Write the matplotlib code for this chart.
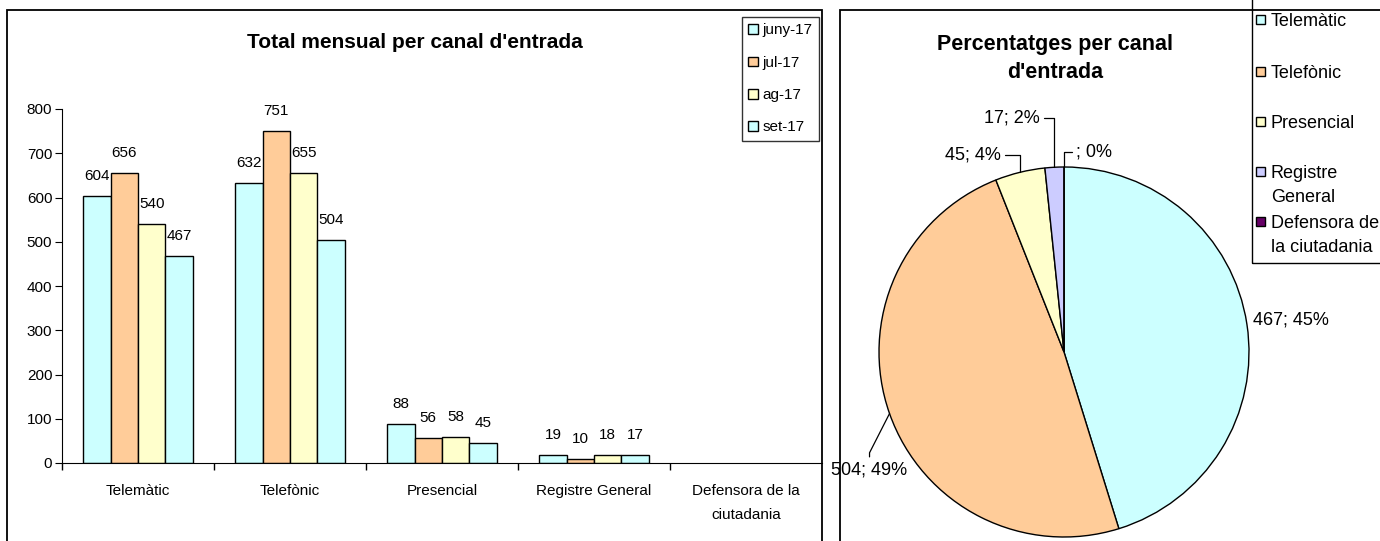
"""
Atencio ciutadana: total mensual i percentatges per canal d'entrada.
"""

import numpy as np
import matplotlib.pyplot as plt
from matplotlib.patches import Rectangle

plt.rcParams['font.family'] = ['Liberation Sans', 'DejaVu Sans']

# ---------------------- Data ---------------------- #
canals = ["Telemàtic", "Telefònic", "Presencial", "Registre General",
          "Defensora de la\nciutadania"]
mesos = ["juny-17", "jul-17", "ag-17", "set-17"]
juny_17 = [604, 632, 88, 19, None]
jul_17 = [656, 751, 56, 10, None]
ag_17 = [540, 655, 58, 18, None]
set_17 = [467, 504, 45, 17, None]

pie_labels = ["Telemàtic", "Telefònic", "Presencial", "Registre\nGeneral",
              "Defensora de\nla ciutadania"]

bar_colors = ["#CCFFFF", "#FFCC99", "#FFFFCC", "#CCFFFF"]
pie_colors = ["#CCFFFF", "#FFCC99", "#FFFFCC", "#CCCCFF", "#660066"]

W, H = 1380, 541


# figure-fraction helper from pixel coords (origin top-left)
def fx(x):
    return x / W


def fy(y):
    return 1 - y / H


fig = plt.figure(figsize=(W / 100, H / 100), dpi=100)

# panel frames
fig.patches.append(Rectangle((fx(7), fy(560)), fx(822) - fx(7), fy(10) - fy(560),
                             transform=fig.transFigure, fill=False,
                             edgecolor="black", lw=1.3))
fig.patches.append(Rectangle((fx(840), fy(560)), fx(1400) - fx(840), fy(10) - fy(560),
                             transform=fig.transFigure, fill=False,
                             edgecolor="black", lw=1.3))

# ---------------------- Bar chart ---------------------- #
ax = fig.add_axes([fx(62), fy(463), fx(822) - fx(62), fy(109) - fy(463)])
x = np.arange(len(canals))
bw = 0.18
handles = []
for i, (mes, vals) in enumerate(zip(mesos, [juny_17, jul_17, ag_17, set_17])):
    v = np.array([np.nan if a is None else a for a in vals], dtype=float)
    off = (i - 1.5) * bw
    bars = ax.bar(x + off, v, bw, color=bar_colors[i], edgecolor="black",
                  linewidth=1, label=mes)
    handles.append(bars)
    for xi, vi in zip(x + off, v):
        if not np.isnan(vi):
            ax.annotate(f"{int(vi)}", (xi, vi), xytext=(0, 16),
                        textcoords="offset pixels", ha="center",
                        va="baseline", fontsize=11)

ax.set_xlim(-0.5, 4.5)
ax.set_ylim(0, 800)
ax.set_yticks(range(0, 801, 100))
ax.set_xticks(x)
ax.set_xticklabels(canals, fontsize=11, linespacing=1.95)
ax.set_xticks(np.arange(-0.5, 4, 1), minor=True)
ax.tick_params(axis="x", which="major", length=0, pad=15)
ax.tick_params(axis="x", which="minor", length=5, width=1)
ax.tick_params(axis="y", labelsize=11, length=5, pad=2)
ax.spines["top"].set_visible(False)
ax.spines["right"].set_visible(False)
ax.patch.set_alpha(0)

fig.text(fx(415), fy(42), "Total mensual per canal d'entrada", ha="center",
         va="center", fontsize=15, fontweight="bold")

fig.legend(handles, mesos, loc="upper left", bbox_to_anchor=(fx(742), fy(17)),
           fontsize=11, frameon=True, fancybox=False, edgecolor="black",
           handlelength=0.6, handleheight=0.6, handletextpad=0.3,
           labelspacing=1.2, borderpad=0.42, borderaxespad=0)

# ---------------------- Pie chart ---------------------- #
R = 185
cx, cy = 1064, 352
pax = fig.add_axes([fx(cx - R), fy(cy + R), fx(2 * R), (2 * R) / H])
pie_vals = [0 if v is None else v for v in set_17]
wedges, _ = pax.pie(pie_vals, colors=pie_colors, startangle=90,
                    counterclock=False,
                    wedgeprops=dict(edgecolor="black", linewidth=1))
pax.set_xlim(-1, 1)
pax.set_ylim(-1, 1)

total = sum(pie_vals)
# (dx, dy) pixel offset of the label, alignment, leader connection, leader start
label_layout = [
    (6, 4, "left", None, None),
    (-20, -56, "center", "angle,angleA=90,angleB=63,rad=0", (0.5, 1)),
    (-19, 17, "right", "angle,angleA=0,angleB=90,rad=0", (1, 0.5)),
    (-15, 49, "right", "angle,angleA=0,angleB=90,rad=0", (1, 0.5)),
    (12, 15, "left", "angle,angleA=0,angleB=90,rad=0", (0, 0.5)),
]
for w, v, (dx, dy, ha, conn, rel) in zip(wedges, set_17, label_layout):
    th = np.deg2rad((w.theta1 + w.theta2) / 2)
    pct = round(100 * (0 if v is None else v) / total)
    txt = f"{v}; {pct}%" if v is not None else f"; {pct}%"
    arrow = None
    if conn is not None:
        arrow = dict(arrowstyle="-", connectionstyle=conn, color="black",
                     lw=0.9, shrinkA=1, shrinkB=0, relpos=rel)
    pax.annotate(txt, (np.cos(th), np.sin(th)), xytext=(dx, dy),
                 textcoords="offset pixels", ha=ha, va="center",
                 fontsize=13, arrowprops=arrow)

fig.text(fx(1055), fy(58.5), "Percentatges per canal\nd'entrada", ha="center",
         va="center", fontsize=15.5, fontweight="bold", linespacing=1.43)

# pie legend (Excel-style evenly spaced slots)
fig.patches.append(Rectangle((fx(1252), fy(263)), fx(1400) - fx(1252), fy(-5) - fy(263),
                             transform=fig.transFigure, fill=False,
                             edgecolor="black", lw=1))
slot_y = [20, 72, 122, 172, 222]
for lab, col, yy in zip(pie_labels, pie_colors, slot_y):
    fig.patches.append(Rectangle((fx(1256), fy(yy + 4)), 9 / W, 9 / H,
                                 transform=fig.transFigure, facecolor=col,
                                 edgecolor="black", lw=1))
    fig.text(fx(1271), fy(yy - 7), lab, ha="left", va="top",
             fontsize=13, linespacing=1.53)

fig.savefig("out.png", dpi=100)
